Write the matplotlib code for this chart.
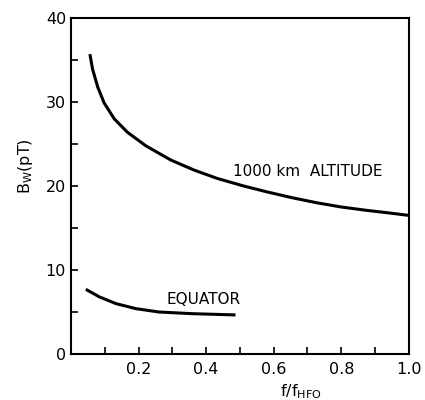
import numpy as np
from matplotlib import pyplot as plt
from matplotlib.ticker import MultipleLocator

# Curves: wave field vs normalised frequency
altFreq = [0.056, 0.064, 0.079, 0.098, 0.128, 0.167, 0.221, 0.295, 0.364,
           0.433, 0.511, 0.58, 0.655, 0.728, 0.80, 0.875, 0.94, 1.0]
altBw = [35.7, 33.9, 31.8, 29.9, 28.0, 26.4, 24.8, 23.1, 21.9,
         20.9, 20.0, 19.3, 18.6, 18.0, 17.5, 17.1, 16.8, 16.5]

eqFreq = [0.044, 0.084, 0.133, 0.192, 0.26, 0.359, 0.487]
eqBw = [7.7, 6.8, 6.0, 5.4, 5.0, 4.8, 4.65]

xTicks = [0.2, 0.4, 0.6, 0.8, 1.0]
xTickLabels = ["0.2", "0.4", "0.6", "0.8", "1.0"]
yTicks = [0, 10, 20, 30, 40]

fig = plt.figure(figsize=(4.25, 4.0), dpi=100)
ax = fig.add_axes([0.167, 0.115, 0.795, 0.84])

ax.plot(altFreq, altBw, color="black", linewidth=2.2, solid_capstyle="butt",
        solid_joinstyle="round")
ax.plot(eqFreq, eqBw, color="black", linewidth=2.2, solid_capstyle="butt",
        solid_joinstyle="round")

ax.set_xlim(0, 1.0)
ax.set_ylim(0, 40)

ax.set_xticks(xTicks)
ax.set_xticklabels(xTickLabels)
ax.set_yticks(yTicks)
ax.xaxis.set_minor_locator(MultipleLocator(0.1))
ax.yaxis.set_minor_locator(MultipleLocator(5))
ax.tick_params(which="both", direction="in", length=5, width=1.2,
               labelsize=11.5, top=False, right=False)
ax.tick_params(axis="x", pad=6)
for sp in ax.spines.values():
    sp.set_linewidth(1.5)

ax.text(0.48, 21.7, "1000 km  ALTITUDE", fontsize=11, va="center", ha="left")
ax.text(0.283, 6.5, "EQUATOR", fontsize=11, va="center", ha="left")

ax.text(-0.136, 0.56, r"B$_\mathrm{W}$(pT)", transform=ax.transAxes, rotation=90,
        ha="center", va="center", fontsize=11.5)
ax.text(0.68, -0.085, r"f/f$_\mathrm{HFO}$", transform=ax.transAxes,
        ha="center", va="top", fontsize=11.5)

plt.savefig("out.png", dpi=100)
